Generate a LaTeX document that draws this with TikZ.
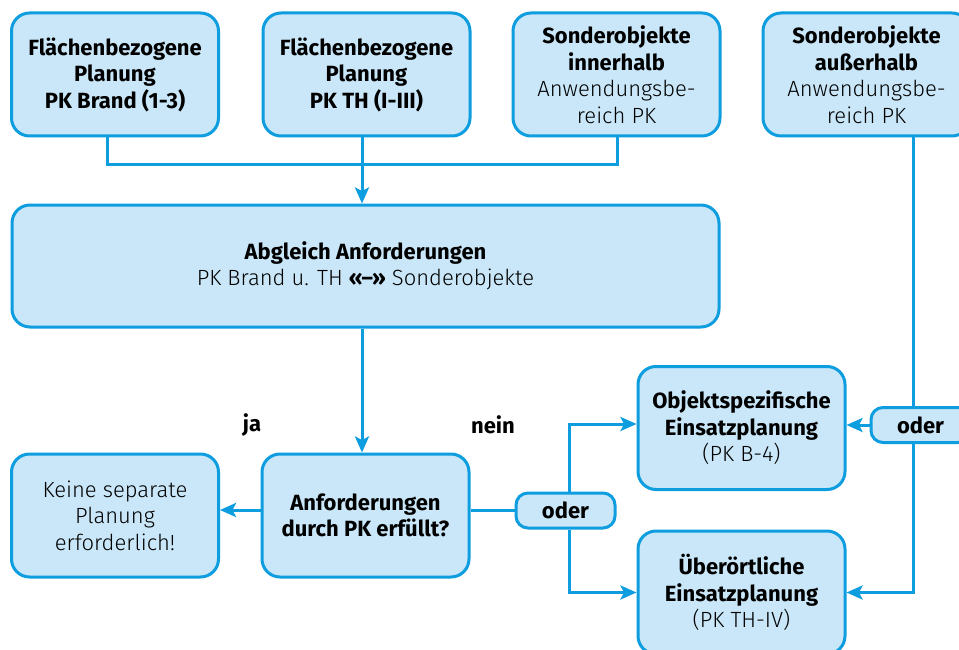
\documentclass[tikz,border=0pt]{standalone}
\usepackage{fontspec}
\setmainfont{Fira Sans}[UprightFont={Fira Sans Light},BoldFont={Fira Sans Bold}]
\usetikzlibrary{arrows.meta,calc}
\definecolor{bfill}{RGB}{201,231,248}
\definecolor{bline}{RGB}{14,157,222}
\begin{document}
\begin{tikzpicture}[x=1pt,y=-1pt,
 box/.style={draw=bline,fill=bfill,line width=3pt,rounded corners=18pt,minimum width=207pt,minimum height=123pt,align=center,font=\fontsize{22}{26.5}\selectfont,inner sep=0pt},
 bbox/.style={box,font=\fontsize{22}{26.5}\selectfont\bfseries},
 orbox/.style={draw=bline,fill=bfill,line width=3pt,rounded corners=12pt,minimum width=99pt,minimum height=35pt,font=\fontsize{22}{26.5}\selectfont\bfseries,inner sep=0pt},
 conn/.style={draw=bline,line width=3pt,line join=miter},
 arr/.style={conn,-{Stealth[length=16pt,width=14pt,inset=3.5pt]}},
 lbl/.style={font=\fontsize{22}{26.5}\selectfont\bfseries,inner sep=0pt}]
\useasboundingbox (0,0) rectangle (959,650);
\fill[white] (0,0) rectangle (959,650);
\clip (0,0) rectangle (959,650);
% nodes
\node[bbox] (b1) at (115,74.5) {Flächenbezogene\\Planung\\PK Brand (1-3)};
\node[bbox] (b2) at (366.5,74.5) {Flächenbezogene\\Planung\\PK TH (I-III)};
\node[box] (b3) at (616.5,74.5) {\textbf{Sonderobjekte}\\\textbf{innerhalb}\\Anwendungsbe-\\reich PK};
\node[box] (b4) at (866.5,74.5) {\textbf{Sonderobjekte}\\\textbf{außerhalb}\\Anwendungsbe-\\reich PK};
\node[box,minimum width=707pt,minimum height=122pt] (big) at (365.5,266) {\textbf{Abgleich Anforderungen}\\PK Brand u. TH \textbf{«–»} Sonderobjekte};
\node[bbox] (dec) at (365.5,515.5) {Anforderungen\\durch PK erfüllt?};
\node[box] (keine) at (115,515.5) {Keine separate\\Planung\\erforderlich!};
\node[orbox] (or1) at (565.5,510.5) {oder};
\node[box] (obj) at (741.5,428) {\textbf{Objektspezifische}\\\textbf{Einsatzplanung}\\(PK B-4)};
\node[box] (ueb) at (741.5,592.5) {\textbf{Überörtliche}\\\textbf{Einsatzplanung}\\(PK TH-IV)};
\node[orbox] (or2) at (920.5,425) {oder};
\node[lbl] (ja) at (252,425) {ja};
\node[lbl] (nein) at (493,425) {nein};
% connectors
\coordinate (cx) at (362,165);
\draw[conn] ([xshift=-8pt]b1.south) |- (cx);
\draw[conn] ([xshift=0.5pt]b3.south) |- (cx);
\draw[conn] ([xshift=-4.5pt]b2.south) -- (cx);
\draw[arr] (cx) -- (cx |- big.north);
\draw[arr] (big.south -| cx) -- (dec.north -| cx);
\draw[arr] ([yshift=5.5pt]dec.west) -- ([yshift=5.5pt]keine.east);
\draw[conn] ([yshift=5pt]dec.east) -- (or1.west);
\coordinate (ox) at (569,0);
\draw[arr] (or1.north -| ox) |- ([yshift=4pt]obj.west);
\draw[arr] (or1.south -| ox) |- (ueb.west);
\coordinate (rx) at (913,0);
\draw[conn] (b4.south -| rx) -- (or2.north -| rx);
\draw[arr] (or2.west) -- (or2.west -| obj.east);
\draw[arr] (or2.south -| rx) |- (ueb.east);
\end{tikzpicture}
\end{document}
